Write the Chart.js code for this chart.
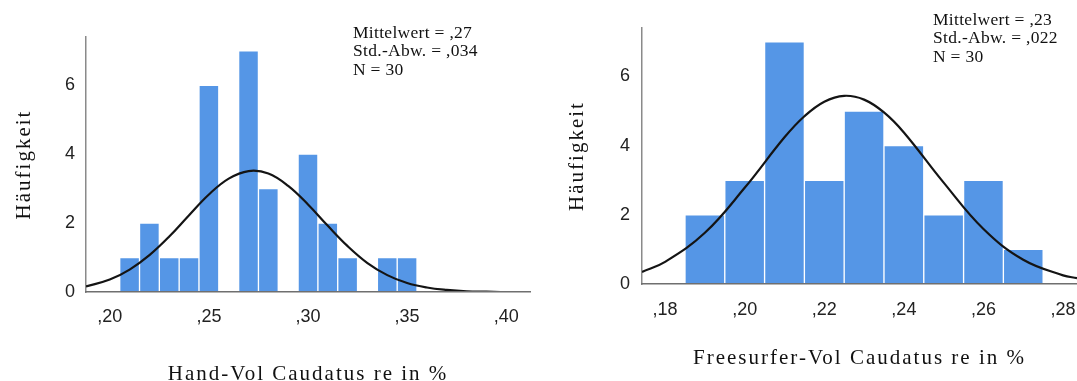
<!DOCTYPE html>
<html>
<head>
<meta charset="utf-8">
<script src="https://cdn.jsdelivr.net/npm/chart.js@4.4.1/dist/chart.umd.min.js"></script>
<style>
  html, body { margin: 0; padding: 0; background: #fff; overflow: hidden; }
  #wrap { position: relative; width: 1077px; height: 381px; overflow: hidden; }
  #wrap canvas { position: absolute; top: 0; }
  #handChart { left: 0; }
  #fsChart { left: 545px; }
</style>
</head>
<body>
<div id="wrap">
  <canvas id="handChart" width="545" height="390"></canvas>
  <canvas id="fsChart" width="532" height="390"></canvas>
</div>
<script>
// --- values (bin width ,01) ---
const countTicks = [0, 2, 4, 6];

// left: Hand-Vol Caudatus re in %
const handBins = [0.21, 0.22, 0.23, 0.24, 0.25, 0.26, 0.27, 0.28, 0.29, 0.30, 0.31, 0.32, 0.33, 0.34, 0.35];
const handCounts = [1, 2, 1, 1, 6, 0, 7, 3, 0, 4, 2, 1, 0, 1, 1];
const handTicks = [0.20, 0.25, 0.30, 0.35, 0.40];
const handCurveX = [0.188, 0.20, 0.21, 0.22, 0.23, 0.24, 0.25, 0.26, 0.27, 0.28, 0.29, 0.30, 0.31, 0.32, 0.33, 0.34, 0.35, 0.36, 0.37, 0.38, 0.39, 0.40, 0.412];
const handCurveY = [0.16, 0.36, 0.65, 1.07, 1.61, 2.23, 2.83, 3.29, 3.51, 3.44, 3.08, 2.54, 1.92, 1.33, 0.84, 0.49, 0.26, 0.13, 0.06, 0.02, 0.01, 0.00, 0.00];
const handStats = ['Mittelwert = ,27', 'Std.-Abw. = ,034', 'N = 30'];

// right: Freesurfer-Vol Caudatus re in %
const fsBins = [0.19, 0.20, 0.21, 0.22, 0.23, 0.24, 0.25, 0.26, 0.27];
const fsCounts = [2, 3, 7, 3, 5, 4, 2, 3, 1];
const fsTicks = [0.18, 0.20, 0.22, 0.24, 0.26, 0.28];
const fsCurveX = [0.1742, 0.18, 0.19, 0.20, 0.21, 0.215, 0.22, 0.225, 0.23, 0.235, 0.24, 0.25, 0.26, 0.27, 0.28, 0.2835];
const fsCurveY = [0.35, 0.64, 1.48, 2.78, 4.24, 4.85, 5.27, 5.44, 5.33, 4.96, 4.38, 2.93, 1.59, 0.70, 0.25, 0.17];
const fsStats = ['Mittelwert = ,23', 'Std.-Abw. = ,022', 'N = 30'];

const SERIF = '"Liberation Serif", "Times New Roman", serif';
const SANS = '"Liberation Sans", Arial, sans-serif';

// draws the Mittelwert / Std.-Abw. / N block
const statsPlugin = {
  id: 'statsBox',
  afterDraw(chart, args, opts) {
    const ctx = chart.ctx;
    ctx.save();
    ctx.font = opts.font;
    ctx.fillStyle = '#111';
    ctx.textBaseline = 'middle';
    ctx.letterSpacing = opts.spacing || '0px';
    opts.lines.forEach((t, i) => ctx.fillText(t, opts.x, opts.y + i * opts.gap));
    ctx.restore();
  }
};

// SPSS renders the axis titles letter-spaced; wrap drawTitle to do the same
const spacedTitles = {
  id: 'spacedTitles',
  afterLayout(chart) {
    Object.values(chart.scales).forEach(s => {
      if (s._spaced) return;
      const orig = s.drawTitle.bind(s);
      s.drawTitle = function() {
        chart.ctx.save();
        chart.ctx.letterSpacing = '2px';
        orig();
        chart.ctx.restore();
      };
      s._spaced = true;
    });
  }
};

function makeHistogram(id, c) {
  const bars = c.bins.map((b, i) => ({ x: b, y: c.counts[i] }));
  const curve = c.curveX.map((x, i) => ({ x: x, y: c.curveY[i] }));
  return new Chart(document.getElementById(id), {
    data: {
      datasets: [
        { type: 'line', data: curve, borderColor: '#141414', borderWidth: 2.2, pointRadius: 0, tension: 0.4, fill: false, order: 0 },
        { type: 'bar', data: bars, backgroundColor: '#5596e6', borderColor: 'rgba(255,255,255,0.85)', borderWidth: 1,
          barPercentage: 1, categoryPercentage: 1, order: 1 }
      ]
    },
    options: {
      responsive: false,
      animation: false,
      layout: { padding: c.padding },
      plugins: {
        legend: { display: false },
        tooltip: { enabled: false },
        statsBox: { lines: c.stats, x: c.statsX, y: c.statsY, gap: 18.5, font: '17.5px ' + SERIF, spacing: '0.3px' }
      },
      scales: {
        x: {
          type: 'linear', min: c.xMin, max: c.xMax, offset: false,
          grid: { display: false, drawTicks: false },
          border: { color: '#6f6f6f', width: 1.5, z: 1 },
          afterBuildTicks: s => { s.ticks = c.xTicks.map(v => ({ value: v })); },
          afterFit: s => { s.height = c.xHeight; s.paddingLeft = 0; s.paddingRight = 0; },
          ticks: {
            callback: v => ',' + v.toFixed(2).slice(2),
            font: { family: SANS, size: 18 }, color: '#222', padding: c.xTickPad,
            maxRotation: 0, autoSkip: false
          },
          title: { display: true, text: c.xTitle, color: '#111', font: { family: SERIF, size: 21, lineHeight: 1 },
                   padding: { top: 0, bottom: c.xTitlePad } }
        },
        y: {
          min: 0, max: 7.4,
          grid: { display: false, drawTicks: false },
          border: { color: '#8a8a8a', width: 1.5 },
          afterBuildTicks: s => { s.ticks = countTicks.map(v => ({ value: v })); },
          afterFit: s => { s.width = c.yWidth; s.paddingTop = 0; s.paddingBottom = 0; },
          ticks: { font: { family: SANS, size: 18 }, color: '#222', padding: c.yTickPad },
          title: { display: true, text: 'Häufigkeit', color: '#111', font: { family: SERIF, size: 21, lineHeight: 1 },
                   padding: { top: c.yTitlePad, bottom: 0 } }
        }
      }
    },
    plugins: [statsPlugin, spacedTitles]
  });
}

makeHistogram('handChart', {
  bins: handBins, counts: handCounts, curveX: handCurveX, curveY: handCurveY,
  xTicks: handTicks, xMin: 0.188, xMax: 0.412, stats: handStats,
  xTitle: 'Hand-Vol Caudatus re in %',
  padding: { left: 0, right: 15, top: 37, bottom: 0 },
  xHeight: 98, yWidth: 86, xTickPad: 14, yTickPad: 11, xTitlePad: 5, yTitlePad: 14,
  statsX: 353, statsY: 33
});

makeHistogram('fsChart', {
  bins: fsBins, counts: fsCounts, curveX: fsCurveX, curveY: fsCurveY,
  xTicks: fsTicks, xMin: 0.1742, xMax: 0.2835, stats: fsStats,
  xTitle: 'Freesurfer-Vol Caudatus re in %',
  padding: { left: 0, right: 0, top: 28, bottom: 0 },
  xHeight: 106, yWidth: 97, xTickPad: 15, yTickPad: 12, xTitlePad: 21, yTitlePad: 22,
  statsX: 388, statsY: 20
});
</script>
</body>
</html>
